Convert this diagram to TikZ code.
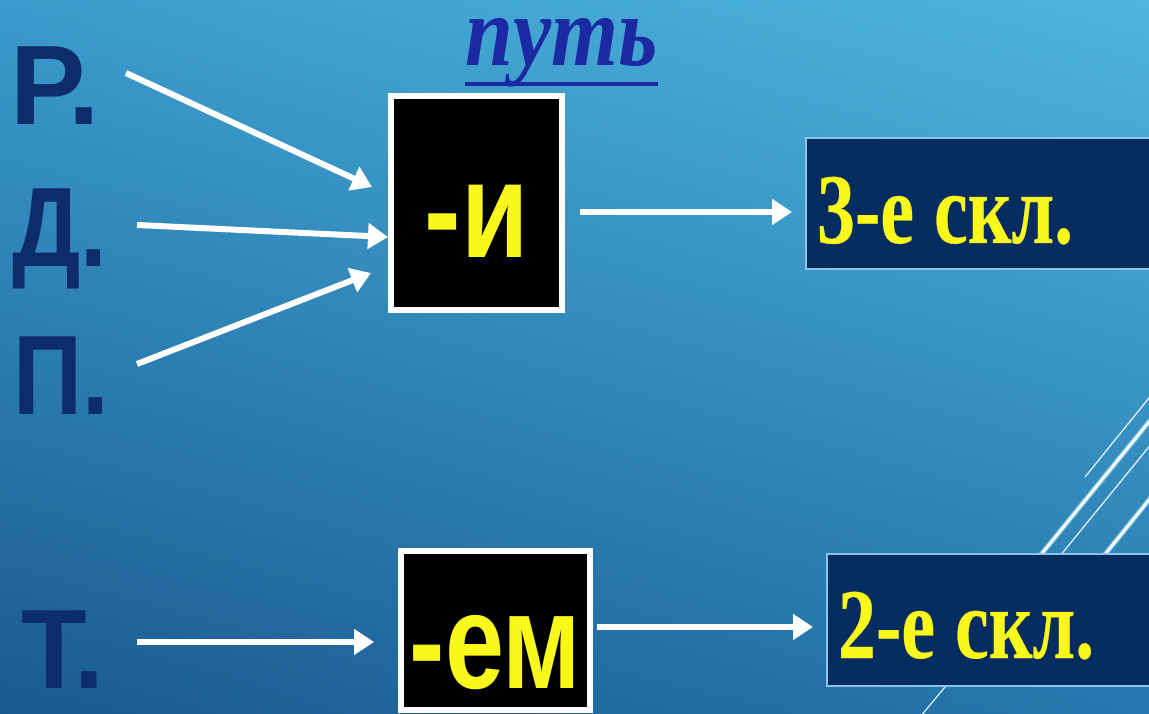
\documentclass[tikz,border=0pt]{standalone}
\usepackage{fontspec}
\usetikzlibrary{arrows.meta,shadings}
\newfontfamily\lettersfontW[FakeStretch=1.0]{Liberation Sans}
\newfontfamily\lettersfontM[FakeStretch=0.95]{Liberation Sans}
\newfontfamily\lettersfontN[FakeStretch=0.85]{Liberation Sans}
\newfontfamily\endingfont[FakeStretch=0.8]{Liberation Sans}
\newfontfamily\endingfontN[FakeStretch=0.78]{Liberation Sans}
\newfontfamily\declfont[FakeStretch=0.76,FakeBold=0.25]{Liberation Serif}
\newfontfamily\titlefont[FakeStretch=0.86]{Liberation Serif}
\definecolor{bgUL}{HTML}{3A9BCC}
\definecolor{bgUR}{HTML}{4FB6DD}
\definecolor{bgLL}{HTML}{1A5A8F}
\definecolor{bgLR}{HTML}{2677AE}
\definecolor{letterc}{HTML}{0E2C6A}
\definecolor{putc}{HTML}{1B2AA3}
\definecolor{yel}{HTML}{F9F71C}
\definecolor{boxfill}{HTML}{072C60}
\definecolor{boxborder}{HTML}{8CC3E8}
\definecolor{glow}{HTML}{A8E4F8}
\tikzset{
  caseletter/.style={anchor=base west, inner sep=0pt, text=letterc},
  endbox/.style={draw=white, line width=6pt, fill=black, inner sep=0pt,
    text=yel, text depth=0pt},
  declbox/.style={draw=boxborder, line width=2pt, fill=boxfill, anchor=west,
    inner ysep=0pt, inner xsep=11pt, text width=360pt, align=left, text=yel,
    text depth=0pt, font=\declfont\bfseries\fontsize{100}{100}\selectfont},
  arr/.style={draw=white, line width=6pt, -{Triangle[length=20pt,width=25pt]}},
  thinline/.style={draw=white, line width=1.3pt, opacity=0.85},
  thickline/.style={draw=white, line width=3pt, opacity=0.95},
  glowline/.style={draw=glow, line width=5.5pt, opacity=0.45}
}
\begin{document}
\begin{tikzpicture}[x=1pt,y=-1pt]
\useasboundingbox (0,0) rectangle (1149,714);
\clip (0,0) rectangle (1149,714);
\shade[upper left=bgUL, upper right=bgUR, lower left=bgLL, lower right=bgLR]
  (0,0) rectangle (1149,714);

% decorative theme lines
\draw[thinline] (1085,477) -- (1170,372);
\draw[glowline] (1000,605) -- (1170,396);
\draw[thickline] (1000,605) -- (1170,396);
\draw[thinline] (1020,605) -- (1170,421);
\draw[glowline] (1060,610) -- (1170,474);
\draw[thickline] (1060,610) -- (1170,474);
\draw[thinline] (955,675) -- (920,717);

% title
\node[anchor=base west, inner sep=0pt, text=putc,
  font=\titlefont\bfseries\itshape\fontsize{100}{100}\selectfont] (put) at (465,66) {путь};
\draw[draw=putc, line width=4.5pt] ([yshift=-18pt]put.base west) -- ([yshift=-18pt]put.base east);

% case letters
\node[caseletter, font=\lettersfontW\bfseries\fontsize{113}{113}\selectfont] (r) at (10,125) {Р.};
\node[caseletter, font=\lettersfontN\bfseries\fontsize{113}{113}\selectfont] (d) at (12,267) {Д.};
\node[caseletter, font=\lettersfontN\bfseries\fontsize{113}{113}\selectfont] (p) at (13,414) {П.};
\node[caseletter, font=\lettersfontM\bfseries\fontsize{113}{113}\selectfont] (t) at (21,688) {Т.};

% ending boxes
\node[endbox, minimum width=171pt, minimum height=214pt, text height=110pt,
  font=\endingfont\bfseries\fontsize{137}{137}\selectfont] (bi) at (476.5,203) {-и};
\node[endbox, minimum width=189pt, minimum height=159pt, text height=115pt,
  font=\endingfontN\bfseries\fontsize{136}{136}\selectfont] (be) at (495.5,630.5) {-ем};

% declension boxes
\node[declbox, minimum height=131pt, text height=79pt] (sk3) at (805,203.5) {3-е\hspace{20pt}скл.};
\node[declbox, minimum height=132pt, text height=76pt] (sk2) at (826,620) {2-е\hspace{20pt}скл.};

% arrow end points
\coordinate (rS) at (126,73);
\coordinate (rE) at (372,187);
\coordinate (dS) at (137,225);
\coordinate (dE) at (388,237);
\coordinate (pS) at (137,364);
\coordinate (pE) at (371,273);
\coordinate (tS) at (137,642);
\coordinate (tE) at (374,642);

\draw[arr] (rS) -- (rE);
\draw[arr] (dS) -- (dE);
\draw[arr] (pS) -- (pE);
\draw[arr] (tS) -- (tE);
\draw[arr, shorten <=15pt, shorten >=13pt] ([yshift=-9pt]bi.east) -- ([yshift=-9pt]bi.east -| sk3.west);
\draw[arr, shorten <=4pt, shorten >=13pt] ([yshift=3.5pt]be.east) -- ([yshift=3.5pt]be.east -| sk2.west);
\end{tikzpicture}
\end{document}
